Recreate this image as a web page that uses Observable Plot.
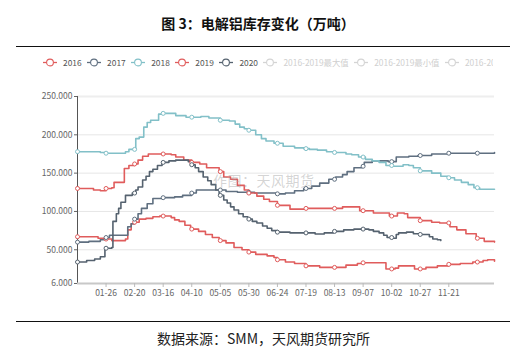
<!DOCTYPE html>
<html><head><meta charset="utf-8">
<script src="https://cdn.jsdelivr.net/npm/d3@7"></script>
<script src="https://cdn.jsdelivr.net/npm/@observablehq/plot@0.6"></script>
<style>
body{margin:0;background:#fff;font-family:"Noto Sans CJK SC","Noto Sans",sans-serif;}
#page{position:relative;width:532px;height:352px;overflow:hidden;background:#fff;}
#title{position:absolute;top:13px;left:16px;width:484px;text-align:center;font-size:14px;font-weight:bold;line-height:20px;color:#111;}
.rule{position:absolute;left:16px;width:494px;height:1.5px;background:#111;}
#legend{position:absolute;top:56px;left:43px;width:450px;height:14px;overflow:hidden;white-space:nowrap;font-size:8.4px;line-height:12px;}
.item{display:inline-flex;align-items:center;margin-right:5.5px;}
.item svg{margin-right:6px;}
#plot{position:absolute;top:80px;left:0;}
#wm{position:absolute;left:213px;top:172px;font-size:14px;line-height:16px;color:rgba(160,160,160,0.45);letter-spacing:0.5px;pointer-events:none;}
#caption{position:absolute;top:328px;left:16px;width:495px;text-align:center;font-size:14px;line-height:20px;color:#222;}
</style></head>
<body><div id="page">
<div id="title">图 3：电解铝库存变化（万吨）</div>
<div class="rule" style="top:45.5px"></div>
<div id="legend"></div>
<div id="plot"></div>
<div id="wm">作图：天风期货</div>
<div class="rule" style="top:320.5px"></div>
<div id="caption">数据来源：SMM，天风期货研究所</div>
</div>
<script>
// x = day index in year (0 = 01-01), y = inventory (万吨)
const y2016 = [[0,67],[10,67],[18,65],[25,64],[30,62],[38,62],[42,64],[44,76],[47,84],[50,86],[54,90],[60,91],[66,93],[72,94],[82,92],[85,89],[89,87],[94,82],[99,77],[106,74],[112,70],[118,66],[124,62],[130,59],[137,53],[144,50],[150,47],[156,44],[166,42],[172,40],[175,37],[182,34],[190,32],[200,29],[212,27],[226,27],[235,30],[245,32],[250,33],[266,33],[270,25],[278,26],[281,29],[295,25],[300,25],[305,27],[315,29],[325,31],[335,32],[346,34],[355,36],[359,37],[365,35]];
const y2017 = [[0,60],[10,61],[20,63],[25,66],[28,69],[43,69],[44,80],[47,84],[50,90],[53,97],[56,104],[61,110],[66,117],[75,118],[85,119],[92,121],[100,124],[104,128],[124,128],[130,126],[140,125],[155,124],[165,124],[175,123],[182,124],[190,127],[198,130],[205,133],[212,137],[220,142],[226,145],[232,148],[236,152],[242,157],[249,159],[251,164],[258,166],[265,166],[272,165],[279,171],[290,172],[298,173],[310,175],[325,176],[340,176],[350,176],[365,177]];
const y2018 = [[0,178],[20,177],[25,176],[35,176],[42,178],[45,181],[51,195],[54,197],[58,210],[61,216],[64,219],[71,227],[74,228],[82,228],[86,225],[95,223],[108,224],[115,222],[125,219],[133,218],[138,214],[142,210],[146,208],[150,206],[156,200],[161,195],[165,192],[172,189],[180,185],[190,183],[198,182],[203,181],[210,180],[218,178],[225,177],[235,175],[240,174],[246,171],[252,168],[258,166],[264,164],[270,160],[276,159],[285,161],[290,160],[294,157],[300,153],[310,150],[318,146],[324,144],[330,141],[336,138],[342,135],[347,131],[352,129],[365,129]];
const y2019 = [[0,130],[14,128],[20,127],[25,130],[30,131],[32,138],[40,138],[41,156],[45,160],[50,162],[53,167],[57,172],[62,175],[75,175],[82,174],[86,171],[93,167],[100,164],[107,162],[113,157],[124,152],[128,145],[134,142],[140,134],[146,128],[150,124],[157,120],[163,116],[168,113],[175,108],[186,103],[200,104],[225,104],[232,106],[240,106],[247,101],[259,98],[273,94],[280,98],[286,97],[289,92],[300,88],[310,86],[317,85],[326,80],[332,76],[340,71],[349,65],[356,61],[365,60]];
const y2020 = [[0,34],[8,36],[15,38],[20,41],[24,52],[30,53],[31,87],[34,97],[36,104],[38,112],[42,121],[48,124],[51,128],[53,132],[57,141],[60,146],[63,152],[66,155],[70,160],[74,164],[80,166],[86,167],[94,167],[97,165],[100,161],[103,157],[106,152],[110,145],[114,140],[117,135],[121,128],[124,121],[128,115],[131,111],[134,106],[137,102],[141,97],[145,93],[149,90],[153,87],[157,85],[162,81],[166,78],[170,75],[175,73],[186,72],[200,72],[208,70.5],[216,72],[224,74],[233,76],[242,77],[249,77],[255,76],[259,74],[264,72],[268,69],[271,66],[276,65],[279,70],[281,72],[288,73],[294,71],[300,70],[308,67],[311,64],[315,63],[318,62]];

const seriesNames = ["2016","2017","2018","2019","2020"];
const seriesColors = ["#e05c5c","#5f6f80","#82c0c8","#e05c5c","#55626f"];
const hiddenNames = ["2016-2019最大值","2016-2019最小值","2016-2020均值"];
const xTickDays = [25,50,75,100,125,150,175,200,225,250,275,300,325];
const xTickLabels = ["01-26","02-20","03-16","04-10","05-05","05-30","06-24","07-19","08-13","09-07","10-02","10-27","11-21"];
const yTicks = [6,50,100,150,200,250];
const markerDays = [0,25,50,75,100,125,150,175,200,225,250,275,300,325,350];

const allSeries = [y2016,y2017,y2018,y2019,y2020];

// legend
const leg = document.getElementById("legend");
function icon(color){
  return `<svg width="14" height="9"><line x1="0" y1="4.5" x2="14" y2="4.5" stroke="${color}" stroke-width="1.3"/><circle cx="7" cy="4.5" r="3.4" fill="#fff" stroke="${color}" stroke-width="1.1"/></svg>`;
}
seriesNames.forEach((n,i)=>{
  leg.insertAdjacentHTML("beforeend",`<span class="item">${icon(seriesColors[i])}<span style="color:#555">${n}</span></span>`);
});
hiddenNames.forEach(n=>{
  leg.insertAdjacentHTML("beforeend",`<span class="item">${icon("#d4d4d4")}<span style="color:#cfcfcf">${n}</span></span>`);
});

function stepVal(s, d){
  let v = null;
  for (const [x,y] of s) { if (x <= d) v = y; else break; }
  return v;
}

const marks = [
  Plot.ruleY(yTicks.slice(1,-1), {stroke:"#e6e6e6", strokeWidth:1}),
  Plot.ruleY([250], {stroke:"#eeeeee", strokeWidth:2}),
  Plot.axisY({ticks: yTicks, tickFormat: d => d.toFixed(3), tickSize: 3, tickPadding: 2, stroke:"#666", fill:"#666", label:null}),
  Plot.ruleX([0], {stroke:"#555", strokeWidth:1}),
  Plot.ruleY([6], {stroke:"#c8c8c8", strokeWidth:2}),
  Plot.axisX({ticks: xTickDays, tickFormat: d => xTickLabels[xTickDays.indexOf(d)], tickSize: 4, tickPadding: 2, stroke:"#bbb", fill:"#666", label:null})
];
allSeries.forEach((s,i)=>{
  marks.push(Plot.line(s, {x: d=>d[0], y: d=>d[1], stroke: seriesColors[i], strokeWidth: 1.6, curve: "step-after"}));
});
allSeries.forEach((s,i)=>{
  const last = s[s.length-1][0];
  const pts = markerDays.filter(d => d <= last).map(d => [d, stepVal(s,d)]);
  marks.push(Plot.dot(pts, {x: d=>d[0], y: d=>d[1], r: 2, fill: "#fff", stroke: seriesColors[i], strokeWidth: 1}));
});

const chart = Plot.plot({
  width: 532, height: 225,
  marginLeft: 77, marginRight: 38, marginTop: 16, marginBottom: 22,
  x: {domain: [0, 365]},
  y: {domain: [6, 250]},
  style: {fontFamily: "'Noto Sans CJK SC','Noto Sans',sans-serif", fontSize: "8.5px", background: "transparent", overflow: "visible"},
  marks
});
document.getElementById("plot").appendChild(chart);
</script>
</body></html>
